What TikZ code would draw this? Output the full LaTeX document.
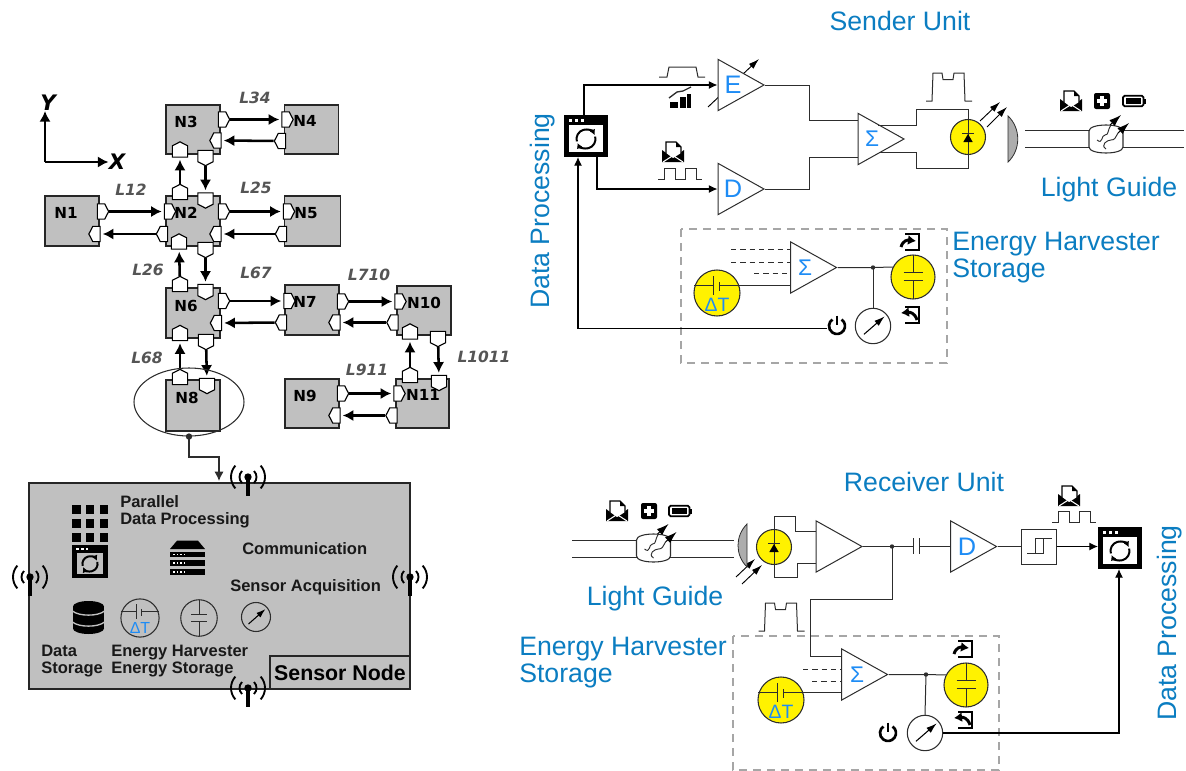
\documentclass[tikz,border=0pt]{standalone}
\usepackage{xcolor}
\usepackage{fontspec}
\setmainfont{Liberation Sans}
\newfontfamily\dejavu{DejaVu Sans}
\usetikzlibrary{arrows.meta,shapes.geometric,shapes.symbols}
\definecolor{nodegray}{RGB}{192,192,192}
\definecolor{headblue}{RGB}{11,125,193}
\definecolor{ampblue}{RGB}{30,140,245}
\definecolor{wiredark}{RGB}{45,45,45}
\definecolor{labelgray}{RGB}{85,85,85}
\tikzset{
  nodebox/.style={rectangle,draw=black!85,fill=nodegray,line width=1.1pt,inner sep=0pt},
  nodelabel/.style={font=\dejavu\fontsize{11.4}{12}\selectfont\bfseries,inner sep=0pt},
  linklabel/.style={font=\dejavu\fontsize{11.6}{12}\selectfont\bfseries\itshape,text=labelgray,inner sep=0pt},
  axislabel/.style={font=\dejavu\fontsize{16}{16}\selectfont\bfseries\itshape,inner sep=0pt},
  porth/.style={signal,draw=black,fill=white,line width=0.85pt,inner sep=0pt,signal pointer angle=125,minimum width=8.5pt,minimum height=11.5pt},
  portv/.style={signal,draw=black,fill=white,line width=0.85pt,inner sep=0pt,signal pointer angle=125,minimum width=11.5pt,minimum height=8.5pt},
  link/.style={line width=1.9pt,shorten >=1.5pt,-{Latex[length=8pt,width=8.5pt]}},
  wire/.style={color=wiredark,line width=0.75pt},
  sigline/.style={wire,line join=miter},
  feed/.style={color=black,line width=0.85pt,-{Latex[length=6.5pt,width=6pt]}},
  lightarrow/.style={color=black,line width=0.7pt,-{Latex[length=8pt,width=5pt]}},
  dashwire/.style={wire,dash pattern={on 4pt off 3pt}},
  harvestbox/.style={draw=black!35,line width=1pt,dash pattern={on 6pt off 4.5pt}},
  ampbox/.style={isosceles triangle,isosceles triangle stretches,shape border rotate=0,anchor=lower side,draw=wiredark,fill=white,line width=0.75pt,inner sep=0pt,minimum width=38.5pt,minimum height=34.5pt},
  amplabel/.style={text=ampblue,inner sep=0pt,font=\fontsize{19}{19}\selectfont},
  sumlabel/.style={text=ampblue,inner sep=0pt,font=\fontsize{17}{17}\selectfont},
  dtlabel/.style={text=ampblue,inner sep=0pt,font=\fontsize{14.5}{14.5}\selectfont},
  headline/.style={text=headblue,inner sep=0pt,align=left,font=\fontsize{20}{20.25}\selectfont},
  boxtext/.style={anchor=west,inner sep=0pt,align=left,text=black!90,font=\fontsize{12.4}{12.75}\selectfont\bfseries},
  pics/procicon/.style={code={
    \fill[black] (-22,-21) rectangle (22,21);
    \fill[#1] (-16.7,-11) rectangle (16.7,16);
    \foreach \i in {-17,-11,-5} \fill[white] (\i,-17.5) rectangle ++(3,3);
    \draw[black,line width=1.5pt,-{Latex[length=4pt,width=4.5pt]}] ([shift={(165:9.5)}]0,3) arc (165:335:9.5);
    \draw[black,line width=1.5pt,-{Latex[length=4pt,width=4.5pt]}] ([shift={(345:9.5)}]0,3) arc (345:515:9.5);
    \coordinate (-up) at (-2,-21);
    \coordinate (-out) at (11,21);
    \coordinate (-inl) at (-8,21);
    \coordinate (-west) at (-22,-1);
    \coordinate (-inb) at (-1,21);
  }},
  pics/griddots/.style={code={
    \foreach \i in {-13.8,0,13.8} \foreach \j in {-13.8,0,13.8}
      \fill[black] (\i-4.3,\j-4.3) rectangle ++(8.6,8.6);
  }},
  pics/servericon/.style={code={
    \fill[black] (-17.5,-9) -- (-10.5,-17.3) -- (10.5,-17.3) -- (17.5,-9) -- cycle;
    \foreach \y in {-6.5,2,11.3} {
      \fill[black] (-17.5,\y) rectangle (17.5,\y+5.5);
      \foreach \i in {-14.5,-11,-7.5,-4} \fill[white] (\i,\y+2) rectangle ++(1.8,1.8);
    }
  }},
  pics/dbicon/.style={code={
    \fill[black] (0,-11) ellipse (15.5 and 5.5);
    \fill[black] (0,11) ellipse (15.5 and 5.5);
    \fill[black] (-15.5,-11) rectangle (15.5,11);
    \foreach \y in {-6.5,4.5}
      \draw[nodegray,line width=1pt] (-16,\y) .. controls (-10,\y+5.5) and (10,\y+5.5) .. (16,\y);
  }},
  pics/thermal/.style={code={
    \draw[draw=wiredark,fill=#1,line width=0.8pt] (0,0) circle (23);
    \draw[wire] (-23,-7.7) -- (-4,-7.7);
    \draw[wire] (2.3,-7.7) -- (23,-7.7);
    \draw[wire] (-4,-16.7) -- (-4,1.7);
    \draw[wire] (2.3,-11) -- (2.3,-2.3);
    \node[dtlabel] (-dt) at (0,11.7) {ΔT};
    \coordinate (-out) at (23,-7.7);
  }},
  pics/capacitor/.style={code={
    \draw[draw=wiredark,fill=#1,line width=0.8pt] (0,0) circle (22);
    \draw[wire] (0,-22) -- (0,-4.7);
    \draw[wire] (0,3.7) -- (0,22);
    \draw[wire] (-9.5,-4.7) -- (9.5,-4.7);
    \draw[wire] (-9.5,3.7) -- (9.5,3.7);
    \coordinate (-in) at (-19.6,-10);
  }},
  pics/meter/.style={code={
    \draw[draw=wiredark,fill=white,line width=0.8pt] (0,0) circle (17.7);
    \draw[lightarrow,line width=0.8pt,-{Latex[length=8pt,width=5pt]}] (-9,8.3) -- (11.7,-9.7);
    \coordinate (-top) at (0,-17.7);
    \coordinate (-east) at (17.7,0);
  }},
  pics/meterbare/.style={code={
    \draw[color=wiredark,line width=0.8pt] (0,0) circle (14.5);
    \draw[lightarrow,line width=0.8pt,-{Latex[length=7pt,width=4.5pt]}] (-7.5,7) -- (9.5,-8);
  }},
  pics/powericon/.style={code={
    \draw[black,line width=2pt] (305:8) arc (305:595:8);
    \draw[black,line width=2pt] (0,-10.5) -- (0,-1);
    \coordinate (-west) at (-10,2.7);
  }},
  pics/mailicon/.style={code={
    \fill[black] (-11,-2) -- (0,6) -- (11,-2) -- (11,10) -- (-11,10) -- cycle;
    \draw[draw=black,fill=white,line width=1pt] (-7,2) -- (-7,-10) -- (3,-10) -- (8,-5) -- (8,2) -- (0,7) -- cycle;
    \fill[black] (3,-10) -- (8,-5) -- (3,-5) -- cycle;
    \draw[white,line width=0.8pt] (-10,10) -- (0,3.5) -- (10,10);
  }},
  pics/plusicon/.style={code={
    \fill[black,rounded corners=1.5pt] (-8,-8) rectangle (8,8);
    \fill[white] (-5,-1.7) rectangle (5,1.7);
    \fill[white] (-1.7,-5) rectangle (1.7,5);
  }},
  pics/batteryicon/.style={code={
    \draw[black,line width=1.3pt,rounded corners=1.2pt] (-11,-5.3) rectangle (9.5,5.3);
    \fill[black] (-8,-2.8) rectangle (6.5,2.8);
    \fill[black] (10.2,-2.5) rectangle (11.7,2.5);
  }},
  pics/fiber/.style={code={
    \draw[draw=wiredark,fill=white,line width=0.8pt] (-17,-8) .. controls (-17,-16) and (17,-16) .. (17,-8) -- (17,8) .. controls (17,16) and (-17,16) .. (-17,8) -- cycle;
    \draw[wire,line width=0.7pt] (-9,1) .. controls (-3,6) and (-5,-4) .. (-1,-4) .. controls (3,-4) and (1,-8) .. (5,-14);
    \draw[wire,line width=0.7pt] (0,10) .. controls (-6,6) and (1,1) .. (5,1) .. controls (9,1) and (9,-1) .. (12,-6);
    \draw[lightarrow,-{Latex[length=9pt,width=6pt]}] (4,-14) -- (15,-24);
    \draw[lightarrow,-{Latex[length=9pt,width=6pt]}] (12,-6) -- (23,-16);
  }},
  pics/ledcell/.style={code={
    \draw[draw=wiredark,fill=yellow,line width=0.8pt] (0,0) circle (17.5);
    \draw[wire] (0,-17.5) -- (0,17.5);
    \fill[black] (-4.7,5) -- (0,-3) -- (4.7,5) -- cycle;
    \draw[wire] (-5.7,-4) -- (5.7,-4);
    \coordinate (-top) at (0,-17.5);
    \coordinate (-bot) at (0,17.5);
  }},
  pics/digipulse/.style={code={
    \draw[sigline] (-22,5.5) -- (-16,5.5) -- (-16,-5.5) -- (-5,-5.5) -- (-5,5.5) -- (5,5.5) -- (5,-5.5) -- (16,-5.5) -- (16,5.5) -- (22,5.5);
  }},
  pics/humppulse/.style={code={
    \draw[sigline] (-23,14) -- (-17,14) -- (-16,-14) -- (-7,-14) -- (-6,-7.5) -- (4,-7.5) -- (5,-14) -- (15,-14) -- (16,14) -- (23,14);
  }},
  pics/doorin/.style={code={
    \draw[black,line width=0.8pt] (-4,-8) -- (10,-8) -- (10,8) -- (-4,8);
    \draw[black,line width=2.2pt,-{Latex[length=6pt,width=7.5pt]}] (-8,5) .. controls (-6,-2) and (-1,-2) .. (7,-1);
  }},
  pics/doorout/.style={code={
    \draw[black,line width=0.8pt] (-4,-8) -- (10,-8) -- (10,8) -- (-4,8);
    \draw[black,line width=2.2pt,-{Latex[length=6pt,width=7.5pt]}] (8,5) .. controls (6,-2) and (1,-3) .. (-8,-2);
  }},
  pics/antenna/.style={code={
    \fill[black] (0,0) circle (3.7);
    \draw[black,line width=2.3pt] (0,0) -- (0,18.5);
    \draw[black,line width=1.4pt] ([shift={(-45:8.5)}]0,0) arc (-45:45:8.5);
    \draw[black,line width=1.4pt] ([shift={(-42:17)}]0,0) arc (-42:42:17);
    \draw[black,line width=1.4pt] ([shift={(135:8.5)}]0,0) arc (135:225:8.5);
    \draw[black,line width=1.4pt] ([shift={(138:17)}]0,0) arc (138:222:17);
  }},
}

\begin{document}
\begin{tikzpicture}[x=0.75pt,y=0.75pt,yscale=-1,xscale=1,every pic/.style={yscale=-1}]
\useasboundingbox (0,0) rectangle (1186,771);

%Axes
\node[axislabel] (axisY) at (48,103) {Y};
\node[axislabel] (axisX) at (117,162) {X};
\coordinate (axisO) at (45,162);
\draw [line width=1.9pt,-{Latex[length=8pt,width=8.5pt]}] (axisO) -- (axisO |- axisY.south);
\draw [line width=1.9pt,-{Latex[length=8pt,width=8.5pt]}] (axisO) -- (axisX.west |- axisO);

%Network nodes
\foreach \name/\x/\y/\w/\h in {N1/72/221/54/50,N2/193/221/54/50,N3/193/129.5/54/49,N4/311.5/129.5/54/49,N5/312.5/221/56/50,N6/193/313/54/50,N7/312/310/54/50,N10/424/310.5/54/49,N9/312/403.5/54/49,N11/422.5/403.5/53/49,N8/193/405.5/54/51}
  \node[nodebox,minimum width=\w*0.75pt,minimum height=\h*0.75pt] (\name) at (\x,\y) {};

%Ports on the nodes
\foreach \name/\x/\y in {N1ee/101/211.5,N2we/168/211.5,N2ee/222/211.5,N3ee/222/119.5,N4we/285.5/119.5,N5we/287/211.5,N6ee/222/301,N7we/287.5/301,N7ee/341/301.5,N10we/398.5/301.5,N9ee/341/393.5,N11we/397.5/393.5}
  \node[porth,signal to=east] (\name) at (\x,\y) {};
\foreach \name/\x/\y in {N1ew/96.5/234,N2ww/164/234,N2ew/217.5/234,N3ew/217.5/140.5,N4ww/282/141,N5ww/283/234,N6ew/218/323,N7ww/283/322.5,N7ew/336.5/322.5,N10ww/394.5/322.5,N9ew/336.5/415.5,N11ww/393.5/415.5}
  \node[porth,signal to=west] (\name) at (\x,\y) {};
\foreach \name/\x/\y in {N2nn/180/194,N2sn/179/243.5,N3sn/180/151.5,N6nn/180/286,N6sn/180/335,N8nn/180/379,N10sn/410/333.5,N11nn/410/377}
  \node[portv,signal to=north] (\name) at (\x,\y) {};
\foreach \name/\x/\y in {N2ns/205.5/198.5,N2ss/205.5/248,N3ss/205.5/156,N6ns/205.5/290,N6ss/206/340,N8ns/207/384,N10ss/438/337,N11ns/439/381}
  \node[portv,signal to=south] (\name) at (\x,\y) {};

%Node names, drawn over the ports
\foreach \name/\tx/\ty in {N1/66/213,N2/186/213,N3/186/122,N4/305/121,N5/306/213,N6/186/306,N7/305/302,N10/424/303,N9/305/396,N11/423/395,N8/187/398}
  \node[nodelabel] (\name txt) at (\tx,\ty) {\name};

%Links
\foreach \a/\b in {N3ee/N4we,N4ww/N3ew,N1ee/N2we,N2ww/N1ew,N2ee/N5we,N5ww/N2ew,N6ee/N7we,N7ww/N6ew,N7ee/N10we,N10ww/N7ew,N9ee/N11we,N11ww/N9ew,N3ss/N2ns,N2nn/N3sn,N2ss/N6ns,N6nn/N2sn,N6ss/N8ns,N8nn/N6sn,N10ss/N11ns,N11nn/N10sn}
  \draw[link] (\a) -- (\b);

% Text Node
\foreach \name/\x/\y in {L34/255/98,L12/131/190,L25/256/188,L26/148/270,L67/256/273,L710/369/275,L68/147/358,L911/367/370,L1011/484/357}
  \node[linklabel] (\name) at (\x,\y) {\name};

%Sensor node zoom
\node[ellipse,draw=wiredark,line width=0.8pt,minimum width=110*0.75pt,minimum height=68*0.75pt,inner sep=0pt] (ellN) at (189,402) {};
\node[rectangle,draw=black!85,fill=nodegray,line width=1.3pt,minimum width=381*0.75pt,minimum height=206*0.75pt,inner sep=0pt] (sensorBox) at (219.5,586) {};
\node[rectangle,draw=black!85,line width=1.3pt,minimum width=140*0.75pt,minimum height=33*0.75pt,inner sep=0pt,font=\fontsize{16}{16}\selectfont\bfseries] (sensorTag) at (340,672.5) {Sensor Node};
\coordinate (sensorIn) at (219,481);
\fill[wiredark] (ellN.south) circle (3.2);
\draw[color=wiredark,line width=1.1pt,-{Latex[length=7pt,width=7pt]}] (ellN.south) |- (219,457) -- (sensorIn);

\pic (antT) at (248,477) {antenna};
\pic (antL) at (30,577) {antenna};
\pic (antR) at (410,577) {antenna};
\pic (antB) at (248,688) {antenna};

\pic at (90,523.5) {griddots};
\pic[scale=0.8] (procB) at (90,561.5) {procicon=nodegray};
\pic at (187.5,558) {servericon};
\pic at (88.5,617.5) {dbicon};
\pic[scale=0.83,dtlabel/.append style={font=\fontsize{12}{12}\selectfont}] (thermB) at (140,618) {thermal=none};
\pic[scale=0.83] (capB) at (199,618) {capacitor=none};
\pic (meterB) at (256,617) {meterbare};

% Text Node
\node[boxtext] (txtPar) at (120,511.5) {Parallel\\Data Processing};
\node[boxtext] (txtCom) at (242,549) {Communication};
\node[boxtext] (txtAcq) at (230,587) {Sensor Acquisition};
\node[boxtext] (txtDat) at (41,661.5) {Data\\Storage};
\node[boxtext] (txtEne) at (111,661.5) {Energy Harvester\\Energy Storage};

%Sender unit
\node[headline] (sendHead) at (900,21) {Sender Unit};
\node[headline,rotate=90] (sendProc) at (543,211) {Data Processing};
\node[headline] (sendGuide) at (1109,190) {Light Guide};
\node[headline,anchor=west] (sendStore) at (952,258) {Energy Harvester\\Storage};

\draw[harvestbox] (681,229) rectangle (947,363);
\pic (procS) at (586,136) {procicon=white};
\coordinate (gainA) at (708,107);
\coordinate (gainB) at (759,59);
\draw[lightarrow] (gainA) -- (gainB);
\node[ampbox] (ampE) at (717.5,85) {};
\node[ampbox] (ampD) at (717.5,189) {};
\node[ampbox] (sumS) at (857.5,139) {};
\node[amplabel] (lblE) at (733,85) {E};
\node[amplabel] (lblD) at (733,189) {D};
\node[sumlabel] (lblSumS) at (872,139) {Σ};
\pic (ledS) at (968,137) {ledcell};

\draw[feed] (procS-up) |- (ampE.lower side);
\draw[feed] (procS-out) |- (ampD.lower side);
\coordinate (sumSa) at (857.5,120);
\coordinate (sumSb) at (857.5,157);
\coordinate (sumSc) at (878,125);
\coordinate (sumSd) at (880,152);
\draw[wire] (ampE.apex) -| (809,120) -- (sumSa);
\draw[wire] (ampD.apex) -| (809,157) -- (sumSb);
\draw[wire] (sumSc) -| (916,109) -| (ledS-top);
\draw[wire] (sumSd) -| (916,168) -| (ledS-bot);

%Signal shapes around the sender
\draw[sigline] (659,77) -- (667,77) -- (669,67) -- (696,67) -- (698,77) -- (705,77);
\fill[black] (670,102) rectangle (678,108);
\fill[black] (680,97) rectangle (686,108);
\fill[black] (687,94) rectangle (691,108);
\draw[wire,line width=1pt] (669,98) -- (677,92) -- (683,91) -- (691,87);
\pic at (673,152) {mailicon};
\pic at (680,173.5) {digipulse};
\pic at (949,87) {humppulse};
\coordinate (ledRayA) at (980,121);
\coordinate (ledRayB) at (1000,102);
\coordinate (ledRayC) at (987,127);
\coordinate (ledRayD) at (1007,107);
\draw[lightarrow] (ledRayA) -- (ledRayB);
\draw[lightarrow] (ledRayC) -- (ledRayD);
\draw[draw=wiredark,fill=black!32,line width=0.6pt] (1008,116) .. controls (1021,128) and (1021,150) .. (1008,162) -- cycle;

%Light guide of the sender
\coordinate (railSa) at (1025,130);
\coordinate (railSb) at (1184,130);
\coordinate (railSc) at (1025,147);
\coordinate (railSd) at (1184,147);
\draw[wire] (railSa) -- (railSb);
\draw[wire] (railSc) -- (railSd);
\pic at (1106,139) {fiber};
\pic at (1071,101) {mailicon};
\pic at (1102,101) {plusicon};
\pic at (1134,101) {batteryicon};

%Harvester of the sender
\pic (thermS) at (717,293) {thermal=yellow};
\node[ampbox] (sumH) at (790,267.5) {};
\node[sumlabel] (lblSumH) at (805,267.5) {Σ};
\pic (capS) at (913,277) {capacitor=yellow};
\pic (meterS) at (873,326) {meter};
\pic (powerS) at (837,326) {powericon};
\pic at (909,242) {doorin};
\pic at (909,315) {doorout};
\foreach \i/\a/\b/\y in {1/731/790/249,2/731/790/262,3/754/790/273} {
  \coordinate (hs\i a) at (\a,\y);
  \coordinate (hs\i b) at (\b,\y);
  \draw[dashwire] (hs\i a) -- (hs\i b);
}
\coordinate (jointS) at (873,267.5);
\draw[wire] (thermS-out) -- (thermS-out -| sumH.lower side);
\draw[wire] (sumH.apex) -- (jointS) -- (capS-in);
\draw[wire] (jointS) -- (meterS-top);
\fill[wiredark] (jointS) circle (2.2);
\draw[feed] (powerS-west) -| (procS-inl);

%Receiver unit
\node[headline] (recvHead) at (924,482) {Receiver Unit};
\node[headline] (recvGuide) at (655,599) {Light Guide};
\node[headline,anchor=west] (recvStore) at (519,663) {Energy Harvester\\Storage};
\node[headline,rotate=90] (recvProc) at (1170,623) {Data Processing};

\draw[harvestbox] (733,636) rectangle (999,770);
\pic (procR) at (1120,548) {procicon=white};
\node[ampbox] (ampR) at (815.5,546.5) {};
\node[ampbox] (ampDR) at (950,546.5) {};
\node[amplabel] (lblDR) at (967,546.5) {D};
\pic (ledR) at (774,547) {ledcell};
\node[rectangle,draw=wiredark,line width=0.75pt,minimum width=35*0.75pt,minimum height=35*0.75pt,inner sep=0pt] (compR) at (1038.5,546.5) {};
\draw[wire] (1027,553) -- (1043,553) -- (1043,538);
\draw[wire] (1035,553) -- (1035,538) -- (1052,538);
\coordinate (ampRa) at (815.5,531);
\coordinate (ampRb) at (815.5,563);
\draw[wire] (ledR-top) |- (795,516) |- (ampRa);
\draw[wire] (ledR-bot) |- (797,577) |- (ampRb);
\coordinate (jointA) at (892,546.5);
\coordinate (plateA) at (913,546.5);
\coordinate (plateB) at (919,546.5);
\draw[wire] (ampR.apex) -- (jointA) -- (plateA);
\draw[wire] (plateB) -- (ampDR.lower side);
\draw[wire] (913,538) -- (913,554);
\draw[wire] (919,538) -- (919,554);
\fill[wiredark] (jointA) circle (2.2);
\draw[wire] (ampDR.apex) -- (compR.west);
\draw[feed] (compR.east) -- (compR.east -| procR-west);

%Signal shapes around the receiver
\pic at (1069,496) {mailicon};
\pic at (1074,517) {digipulse};
\pic at (781.5,617) {humppulse};
\coordinate (rayRa) at (736,577);
\coordinate (rayRb) at (755,559);
\coordinate (rayRc) at (742,584);
\coordinate (rayRd) at (762,565);
\draw[lightarrow] (rayRa) -- (rayRb);
\draw[lightarrow] (rayRc) -- (rayRd);
\draw[draw=wiredark,fill=black!32,line width=0.6pt] (747,524) .. controls (735,536) and (735,555) .. (747,567) -- cycle;

%Light guide of the receiver
\coordinate (railRa) at (572,540);
\coordinate (railRb) at (734,540);
\coordinate (railRc) at (572,557);
\coordinate (railRd) at (734,557);
\draw[wire] (railRa) -- (railRb);
\draw[wire] (railRc) -- (railRd);
\pic at (653.5,548) {fiber};
\pic at (617,511) {mailicon};
\pic at (649,511) {plusicon};
\pic at (680,511) {batteryicon};

%Harvester of the receiver
\pic (thermR) at (781,700) {thermal=yellow};
\node[ampbox] (sumR) at (841,674.5) {};
\node[sumlabel] (lblSumR) at (857,674.5) {Σ};
\pic (capR) at (966,685) {capacitor=yellow};
\pic (meterR) at (925,733) {meter};
\pic (powerR) at (888,733) {powericon};
\pic at (962,649) {doorin};
\pic at (962,720) {doorout};
\foreach \i/\a/\b/\y in {1/803/841/669,2/812/841/681} {
  \coordinate (hr\i a) at (\a,\y);
  \coordinate (hr\i b) at (\b,\y);
  \draw[dashwire] (hr\i a) -- (hr\i b);
}
\coordinate (sumRin) at (841,656);
\coordinate (jointR) at (926,674.5);
\draw[wire] (jointA) |- (810,599) |- (sumRin);
\draw[wire] (thermR-out) -- (thermR-out -| sumR.lower side);
\draw[wire] (sumR.apex) -- (jointR) -- (capR-in);
\draw[wire] (jointR) -- (meterR-top);
\fill[wiredark] (jointR) circle (2.2);
\draw[feed] (meterR-east) -| (procR-inb);

\end{tikzpicture}
\end{document}
